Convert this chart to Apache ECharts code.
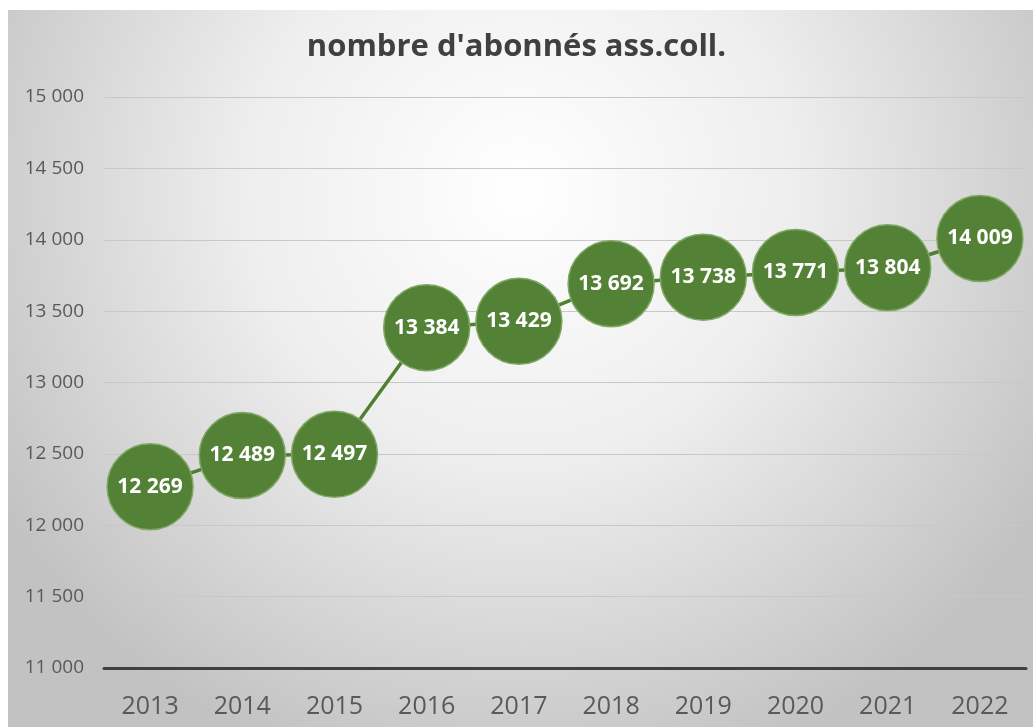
<!DOCTYPE html>
<html><head><meta charset="utf-8">
<script src="https://cdn.jsdelivr.net/npm/echarts@6/dist/echarts.min.js"></script>
<style>html,body{margin:0;padding:0;background:#fff;}#c{width:1033px;height:727px;}</style>
</head><body><div id="c"></div>
<script>
const categories = ['2013','2014','2015','2016','2017','2018','2019','2020','2021','2022'];
const values = [12269, 12489, 12497, 13384, 13429, 13692, 13738, 13771, 13804, 14009];
const yTicks = [11000, 11500, 12000, 12500, 13000, 13500, 14000, 14500, 15000];
const title = "nombre d'abonnés ass.coll.";

function fmt(v){ return String(v).replace(/\B(?=(\d{3})+(?!\d))/g, ' '); }

const chart = echarts.init(document.getElementById('c'));
chart.setOption({
  backgroundColor: '#ffffff',
  graphic: [{
    type: 'rect', left: 8, top: 10, z: -10, silent: true,
    shape: { width: 1025, height: 717 },
    style: { fill: { type: 'radial', x: 0.5, y: 0.25, r: 0.85,
      colorStops: [{ offset: 0, color: '#ffffff' }, { offset: 0.45, color: '#eeeeee' }, { offset: 1, color: '#c2c2c2' }] } }
  }],
  title: { text: title, left: 'center', top: 27,
    textStyle: { fontFamily: 'Open Sans', fontWeight: 'bold', fontSize: 31, color: '#404040' } },
  grid: { left: 104, right: 7, top: 97, bottom: 59 },
  xAxis: { type: 'category', data: categories, boundaryGap: true,
    axisLine: { lineStyle: { color: '#404040', width: 3 } },
    axisTick: { show: false },
    axisLabel: { fontFamily: 'Open Sans', fontSize: 25, color: '#595959', margin: 26 } },
  yAxis: { type: 'value', min: yTicks[0], max: yTicks[yTicks.length-1], interval: 500,
    axisLine: { show: false }, axisTick: { show: false },
    splitLine: { lineStyle: { color: '#c8c8c8', width: 1 } },
    axisLabel: { fontFamily: 'Open Sans', fontSize: 19, color: '#595959', margin: 20,
      formatter: v => fmt(v) } },
  series: [{
    type: 'line', data: values, symbol: 'circle', symbolSize: 86,
    lineStyle: { color: '#4f7f30', width: 3.5 },
    itemStyle: { color: '#538135', borderColor: '#7fa864', borderWidth: 1.5 },
    label: { show: true, position: 'inside', formatter: p => fmt(p.value),
      fontFamily: 'Open Sans', fontWeight: 'bold', fontSize: 21, color: '#ffffff' },
    emphasis: { disabled: true }, animation: false
  }],
  animation: false
});
</script></body></html>
